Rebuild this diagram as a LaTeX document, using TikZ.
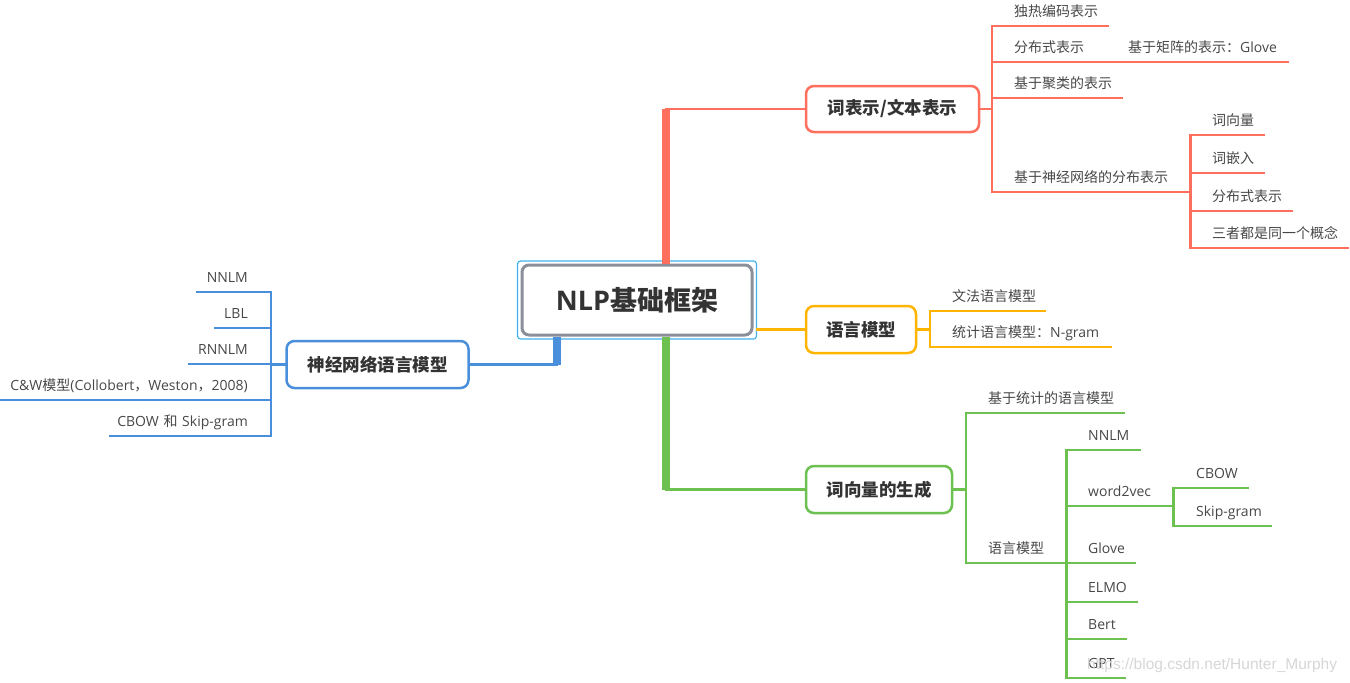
\documentclass[tikz,border=0pt]{standalone}
\usepackage{fontspec}
\setmainfont{Open Sans}
\newfontfamily\cjk{Noto Sans CJK SC}
\newfontfamily\wmfont{Liberation Sans}
\newcommand\zh[1]{{\cjk #1}}
\definecolor{mmred}{RGB}{255,111,94}
\definecolor{mmorange}{RGB}{255,180,0}
\definecolor{mmgreen}{RGB}{108,193,80}
\definecolor{mmblue}{RGB}{74,143,219}
\definecolor{mmgray}{RGB}{138,143,153}
\definecolor{mmsky}{RGB}{64,176,238}
\definecolor{ink}{RGB}{51,51,51}

\begin{document}
\begin{tikzpicture}[x=1pt,y=-1pt,
  topic/.style={draw=#1, line width=2.5pt, rounded corners=8pt, fill=white, text=ink,
    font=\fontsize{17.5}{20}\selectfont\bfseries},
  leaf/.style={anchor=south west, inner xsep=0pt, inner ysep=0pt, text height=11pt,
    text depth=9pt, align=left, text=ink!90, font=\fontsize{14}{16}\selectfont},
  leafl/.style={leaf, anchor=south east, align=right},
  twig/.style={line width=2.8pt, line cap=rect},
  trunk/.style={line width=8pt}]
  \useasboundingbox (0,0) rectangle (1350,683);

  % centre
  \node[draw=mmgray, line width=3pt, rounded corners=7pt, minimum width=230pt,
    minimum height=70pt, text=ink, font=\fontsize{27}{30}\selectfont\bfseries]
    (root) at (637,300) {NLP\zh{基础框架}};
  \node[draw=mmsky, line width=1.2pt, rounded corners=3pt, minimum width=239pt,
    minimum height=78pt] (rootframe) at (root) {};

  % main topics
  \node[topic=mmred, minimum width=173pt, minimum height=46pt] (rep) at (892.5,109) {\zh{词表示/文本表示}};
  \node[topic=mmorange, minimum width=110pt, minimum height=47pt] (lm) at (861,329.5) {\zh{语言模型}};
  \node[topic=mmgreen, minimum width=146pt, minimum height=47pt] (gen) at (879,489.5) {\zh{词向量的生成}};
  \node[topic=mmblue, minimum width=182pt, minimum height=47pt] (nn) at (377.5,364.5) {\zh{神经网络语言模型}};

  % trunks
  \coordinate (rt) at (666,109);
  \coordinate (gt) at (666,489.5);
  \coordinate (bt) at (557,364.5);
  \draw[trunk, mmred] (rt |- root.north) -- (rt);
  \draw[twig, mmred] (rt) -- (rep.west);
  \draw[trunk, mmgreen] (gt |- root.south) -- (gt);
  \draw[twig, mmgreen] (gt) -- (gen.west);
  \draw[trunk, mmblue] (bt |- root.south) -- (bt);
  \draw[twig, mmblue] (bt) -- (nn.east);
  \draw[twig, mmorange] (rootframe.east |- lm.west) -- (lm.west);

  % word representation
  \coordinate (rv) at (992,109);
  \draw[twig, mmred] (rep.east) -- (rv);
  \foreach \n/\y/\w/\t in {1/26/93/独热编码表示, 2/62/102/分布式表示, 3/98/107/基于聚类的表示,
    4/192/176/基于神经网络的分布表示} {
    \node[leaf, text width=\w pt] (r\n) at (1014,\y) {\zh{\t}};
    \draw[twig, mmred] (rv |- r\n.south) -- (r\n.south east);
  }
  \draw[twig, mmred] (rv |- r1.south) -- (rv |- r4.south);
  \node[leaf, text width=159pt] (r2g) at (1128,62) {\zh{基于矩阵的表示：}Glove};
  \draw[twig, mmred] (r2.south east) -- (r2g.south east);
  \coordinate (rv2) at (r4.south east);
  \foreach \n/\y/\w/\t in {1/135/51/词向量, 2/173/51/词嵌入, 3/211/79/分布式表示,
    4/248/135/三者都是同一个概念} {
    \node[leaf, text width=\w pt] (s\n) at (1212,\y) {\zh{\t}};
    \draw[twig, mmred] (rv2 |- s\n.south) -- (s\n.south east);
  }
  \draw[twig, mmred] (rv2 |- s1.south) -- (rv2 |- s4.south);

  % language model
  \coordinate (ov) at (930,329.5);
  \draw[twig, mmorange] (lm.east) -- (ov);
  \node[leaf, text width=92pt] (o1) at (952,311) {\zh{文法语言模型}};
  \node[leaf, text width=158pt] (o2) at (952,347) {\zh{统计语言模型：}N-gram};
  \foreach \n in {1,2}
    \draw[twig, mmorange] (ov |- o\n.south) -- (o\n.south east);
  \draw[twig, mmorange] (ov |- o1.south) -- (ov |- o2.south);

  % word vectors
  \coordinate (gv) at (966,489.5);
  \draw[twig, mmgreen] (gen.east) -- (gv);
  \node[leaf, text width=135pt] (g1) at (988,413) {\zh{基于统计的语言模型}};
  \node[leaf, text width=78pt] (g2) at (988,563) {\zh{语言模型}};
  \foreach \n in {1,2}
    \draw[twig, mmgreen] (gv |- g\n.south) -- (g\n.south east);
  \draw[twig, mmgreen] (gv |- g1.south) -- (gv |- g2.south);
  \coordinate (gv2) at (g2.south east);
  \foreach \n/\y/\w/\t in {1/450/51/NNLM, 2/506/85/word2vec, 3/563/46/Glove, 4/602/48/ELMO,
    5/639/37/Bert, 6/678/36/GPT} {
    \node[leaf, text width=\w pt] (m\n) at (1088,\y) {\t};
    \draw[twig, mmgreen] (gv2 |- m\n.south) -- (m\n.south east);
  }
  \draw[twig, mmgreen] (gv2 |- m1.south) -- (gv2 |- m6.south);
  \coordinate (gv3) at (m2.south east);
  \foreach \n/\y/\w/\t in {1/488/51/CBOW, 2/526/74/Skip-gram} {
    \node[leaf, text width=\w pt] (w\n) at (1196,\y) {\t};
    \draw[twig, mmgreen] (gv3 |- w\n.south) -- (w\n.south east);
  }
  \draw[twig, mmgreen] (gv3 |- w1.south) -- (gv3 |- w2.south);

  % neural network language models
  \coordinate (bv) at (271,364.5);
  \draw[twig, mmblue] (nn.west) -- (bv);
  \foreach \n/\y/\w/\t in {1/292/50/NNLM, 2/328/32/LBL, 3/364/58/RNNLM,
    4/400/246/C\&W\zh{模型}(Collobert\zh{，}Weston\zh{，}2008),
    5/436/137/CBOW \zh{和} Skip-gram} {
    \node[leafl, text width=\w pt] (b\n) at (248,\y) {\t};
    \draw[twig, mmblue] (bv |- b\n.south) -- (b\n.south west);
  }
  \draw[twig, mmblue] (bv |- b1.south) -- (bv |- b5.south);

  \node[font=\wmfont\fontsize{15.5}{17}\selectfont, text=black!16, anchor=base west, inner sep=0pt]
    (wm) at (1087,669) {https://blog.csdn.net/Hunter\_Murphy};
\end{tikzpicture}
\end{document}
